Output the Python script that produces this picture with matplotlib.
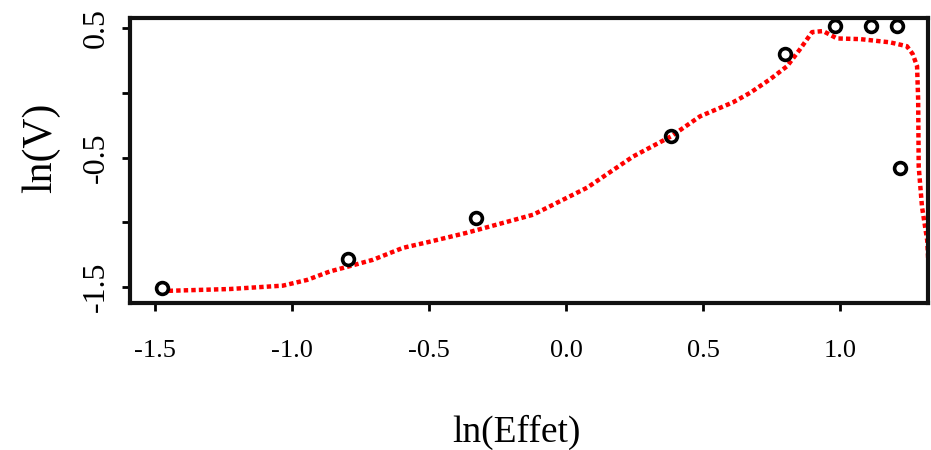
import matplotlib.pyplot as plt

# observed points
pt_x = [-1.474, -0.796, -0.328, 0.383, 0.799, 0.982, 1.113, 1.208, 1.219]
pt_y = [-1.51, -1.283, -0.965, -0.337, 0.298, 0.515, 0.515, 0.515, -0.578]

# fitted curve
fit_x = [-1.45, -1.226, -1.033, -0.945, -0.861, -0.799, -0.704, -0.595, -0.496,
         -0.361, -0.120, 0.077, 0.245, 0.383, 0.489, 0.609, 0.672, 0.745, 0.807,
         0.854, 0.898, 0.938, 0.989, 1.073, 1.182, 1.244, 1.265, 1.281, 1.285,
         1.287, 1.299, 1.318, 1.330]
fit_y = [-1.53, -1.516, -1.49, -1.446, -1.38, -1.345, -1.29, -1.198, -1.15,
         -1.081, -0.942, -0.733, -0.492, -0.337, -0.182, -0.074, 0.0, 0.105, 0.206,
         0.337, 0.469, 0.477, 0.42, 0.415, 0.39, 0.36, 0.30, 0.206, -0.05,
         -0.57, -0.88, -1.14, -1.62]

xticks = [-1.5, -1.0, -0.5, 0.0, 0.5, 1.0]
xtick_labels = ['-1.5', '-1.0', '-0.5', '0.0', '0.5', '1.0']
yticks = [-1.5, -1.0, -0.5, 0.0, 0.5]
ytick_labels = ['-1.5', '', '-0.5', '', '0.5']

plt.rcParams['font.family'] = ['Liberation Serif', 'DejaVu Serif']

fig = plt.figure(figsize=(9.31, 4.5), dpi=100)
ax = fig.add_axes([0.1396, 0.3267, 0.8572, 0.6333])

ax.plot(fit_x, fit_y, color='red', lw=3.2, linestyle=(0, (1, 0.7)))
ax.plot(pt_x, pt_y, 'o', mfc='none', mec='black', ms=8.5, mew=2.6)

ax.set_xlim(-1.591, 1.321)
ax.set_ylim(-1.624, 0.578)

ax.set_xticks(xticks)
ax.set_xticklabels(xtick_labels, fontsize=19)
ax.set_yticks(yticks)
ax.set_yticklabels(ytick_labels, fontsize=23, rotation=90, va='center')
ax.tick_params(axis='x', length=6, width=2, pad=21)
ax.tick_params(axis='y', length=6, width=2, pad=8)

for s in ax.spines.values():
    s.set_linewidth(3)
    s.set_color('#111111')

ax.set_xlabel('ln(Effet)', fontsize=27)
ax.set_ylabel('ln(V)', fontsize=30)
ax.xaxis.set_label_coords(0.484, -0.393)
ax.yaxis.set_label_coords(-0.088, 0.544)

fig.savefig('out.png', dpi=100)
